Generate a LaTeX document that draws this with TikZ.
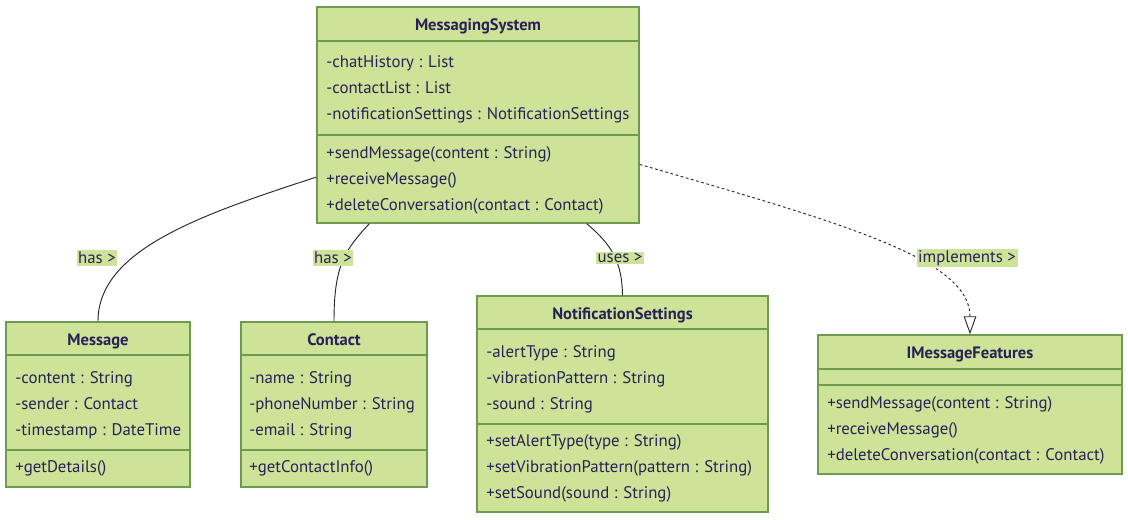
\documentclass[tikz,border=0pt]{standalone}
\usepackage{fontspec}
\setmainfont{PT Sans}
\usepackage{xcolor}
\usetikzlibrary{arrows.meta}

\definecolor{umlfill}{HTML}{CDE498}
\definecolor{umlborder}{HTML}{6F9A52}
\definecolor{umltext}{HTML}{2A2059}

\tikzset{
  classbox/.style={draw=umlborder,fill=umlfill,line width=1.1pt,inner sep=0},
  divider/.style={draw=umlborder,line width=1.1pt},
  classname/.style={anchor=base,inner sep=0,text=umltext,font=\fontsize{12.4}{14}\selectfont\bfseries},
  member/.style={anchor=base west,inner sep=0,text=umltext,font=\fontsize{12.6}{14}\selectfont},
  rel/.style={draw=black!85,line width=0.7pt},
  rellabel/.style={fill=umlfill,inner sep=1.2pt,text=umltext,font=\fontsize{12.6}{14}\selectfont}
}

\begin{document}
\begin{tikzpicture}[x=0.75pt,y=-0.75pt]
\useasboundingbox (0,0) rectangle (1128,519);

% MessagingSystem
\node[classbox,minimum width=241.5pt,minimum height=162pt] (ms) at (478,115) {};
\draw[divider] (317,41) -- (639,41);
\draw[divider] (317,135) -- (639,135);
\node[classname] (msname) at (478,30) {MessagingSystem};
\node[member] (ms1) at (326,67) {-chatHistory : List};
\node[member] (ms2) at (326,93) {-contactList : List};
\node[member] (ms3) at (326,119) {-notificationSettings : NotificationSettings};
\node[member] (ms4) at (326,158) {+sendMessage(content : String)};
\node[member] (ms5) at (326,184) {+receiveMessage()};
\node[member] (ms6) at (326,210) {+deleteConversation(contact : Contact)};

% Message
\node[classbox,minimum width=138pt,minimum height=123.75pt] (msg) at (98,404.5) {};
\draw[divider] (6,355) -- (190,355);
\draw[divider] (6,450) -- (190,450);
\node[classname] (msgname) at (98,345) {Message};
\node[member] (msg1) at (15,383) {-content : String};
\node[member] (msg2) at (15,409) {-sender : Contact};
\node[member] (msg3) at (15,435) {-timestamp : DateTime};
\node[member] (msg4) at (15,472) {+getDetails()};

% Contact
\node[classbox,minimum width=139.5pt,minimum height=123.75pt] (ct) at (334,404.5) {};
\draw[divider] (241,355) -- (427,355);
\draw[divider] (241,450) -- (427,450);
\node[classname] (ctname) at (334,345) {Contact};
\node[member] (ct1) at (249,383) {-name : String};
\node[member] (ct2) at (249,409) {-phoneNumber : String};
\node[member] (ct3) at (249,435) {-email : String};
\node[member] (ct4) at (249,472) {+getContactInfo()};

% NotificationSettings
\node[classbox,minimum width=218.25pt,minimum height=162pt] (ns) at (622.5,404) {};
\draw[divider] (477,329) -- (768,329);
\draw[divider] (477,424) -- (768,424);
\node[classname] (nsname) at (622.5,319) {NotificationSettings};
\node[member] (ns1) at (486,357) {-alertType : String};
\node[member] (ns2) at (486,383) {-vibrationPattern : String};
\node[member] (ns3) at (486,409) {-sound : String};
\node[member] (ns4) at (486,446) {+setAlertType(type : String)};
\node[member] (ns5) at (486,472) {+setVibrationPattern(pattern : String)};
\node[member] (ns6) at (486,498) {+setSound(sound : String)};

% IMessageFeatures
\node[classbox,minimum width=228pt,minimum height=104.25pt] (imf) at (970,404.5) {};
\draw[divider] (818,369) -- (1122,369);
\draw[divider] (818,385) -- (1122,385);
\node[classname] (imfname) at (970,358) {IMessageFeatures};
\node[member] (imf1) at (827,408) {+sendMessage(content : String)};
\node[member] (imf2) at (827,434) {+receiveMessage()};
\node[member] (imf3) at (827,460) {+deleteConversation(contact : Contact)};

% relations
\draw[rel] (ms.201) .. controls (200,215) and (98,250) .. (msg.north);
\draw[rel] (ms.225) .. controls (345,250) and (334,265) .. (ct.north);
\draw[rel] (ms.315) .. controls (612,245) and (622,262) .. (ns.north);
\draw[rel,dash pattern=on 2pt off 2pt,-{Triangle[open,length=13.5pt,width=9.5pt]}] (ms.343) .. controls (850,225) and (970,260) .. (imf.north);

\node[rellabel] (lhas1) at (97,258) {has >};
\node[rellabel] (lhas2) at (333,258) {has >};
\node[rellabel] (luses) at (620,258) {uses >};
\node[rellabel] (limpl) at (967,258) {implements >};
\end{tikzpicture}
\end{document}
